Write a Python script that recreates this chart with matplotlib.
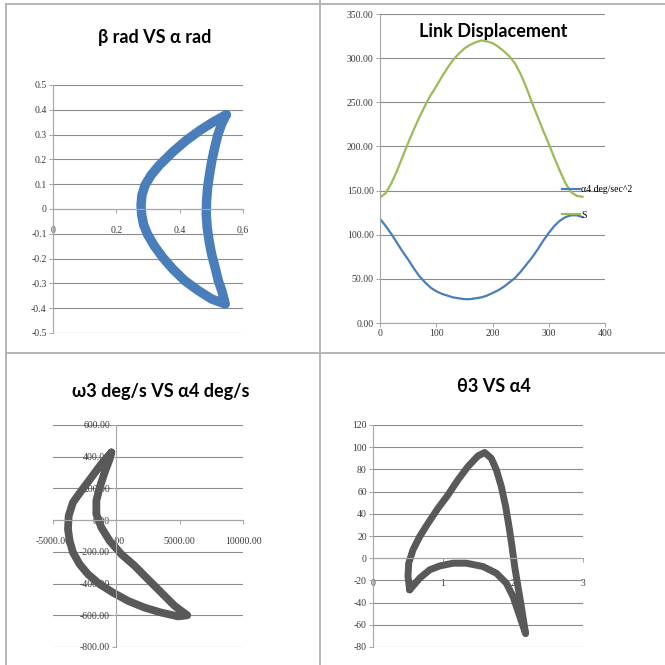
import matplotlib.pyplot as plt
from matplotlib.lines import Line2D

# ---- data ----
# beta rad VS alpha rad (closed loop)
alpha_rad = [0.547, 0.506, 0.464, 0.421, 0.379, 0.336, 0.31, 0.291, 0.281, 0.278,
             0.28, 0.286, 0.299, 0.32, 0.347, 0.379, 0.416, 0.459, 0.501, 0.544,
             0.533, 0.522, 0.512, 0.501, 0.493, 0.487, 0.484, 0.485, 0.488, 0.494,
             0.501, 0.51, 0.52, 0.533, 0.547]
beta_rad = [0.38, 0.351, 0.317, 0.277, 0.231, 0.177, 0.137, 0.097, 0.057, 0.017,
            -0.023, -0.063, -0.103, -0.149, -0.196, -0.243, -0.289, -0.329, -0.363, -0.383,
            -0.329, -0.289, -0.236, -0.183, -0.129, -0.076, -0.023, 0.031, 0.084, 0.137,
            0.191, 0.244, 0.297, 0.344, 0.38]

# Link Displacement
crank_deg = [0, 10, 20, 30, 40, 50, 60, 70, 80, 90, 100, 110, 120, 130, 140, 150, 160, 170, 180,
             190, 200, 210, 220, 230, 240, 250, 260, 270, 280, 290, 300, 310, 320, 330, 340, 350, 360]
alpha4_line = [118, 110, 101, 91, 81, 72, 62, 53, 46, 40, 36, 33, 31, 29, 28, 27, 27, 28, 29,
               31, 34, 37, 41, 46, 51, 58, 66, 74, 83, 93, 102, 110, 116, 120, 122, 122, 120]
s_line = [142, 147, 158, 172, 188, 204, 219, 233, 246, 258, 268, 279, 289, 298, 305, 311, 315, 318, 320,
          319, 317, 313, 308, 302, 294, 282, 267, 250, 234, 218, 203, 187, 172, 158, 148, 144, 143]

# omega3 deg/s VS alpha4 deg/s
alpha4_dps = [-395, -1184, -1974, -2763, -3421, -3763, -3816, -3684, -3421, -2895,
              -2237, -1316, -263, 921, 2237, 3553, 4868, 5600,
              4605, 3553, 2500, 1447, 395, -526, -1184, -1579, -1579, -1316,
              -921, -526, -395]
omega3_dps = [427, 354, 269, 185, 112, 27, -57, -131, -204, -278,
              -341, -404, -457, -509, -552, -583, -607, -600,
              -541, -457, -373, -288, -215, -131, -46, 38, 122, 206,
              301, 385, 427]

# theta3 VS alpha4
alpha4_b = [0.524, 0.5, 0.51, 0.571, 0.667, 0.786, 0.929, 1.071, 1.214, 1.357,
            1.5, 1.595, 1.69, 1.762, 1.833, 1.895, 1.943, 1.986, 2.024, 2.071,
            2.119, 2.16, 2.18, 2.0, 1.905, 1.762, 1.571, 1.333, 1.143, 0.952,
            0.81, 0.667, 0.524]
theta3_b = [-28.5, -16.5, -4.5, 7.5, 19.5, 31.5, 45, 57, 70.6, 82.6,
            92.2, 95.2, 90, 79.6, 64.6, 46.5, 28.5, 10.5, -7.5, -25.5,
            -43.5, -60, -68, -34.5, -22.5, -13.5, -7.5, -4.5, -4.5, -7,
            -10.5, -18, -28.5]

# tick labels
tl_yticks = [-0.5, -0.4, -0.3, -0.2, -0.1, 0, 0.1, 0.2, 0.3, 0.4, 0.5]
tl_ylabels = ['-0.5', '-0.4', '-0.3', '-0.2', '-0.1', '0', '0.1', '0.2', '0.3', '0.4', '0.5']
tl_xticks = [0, 0.2, 0.4, 0.6]
tl_xlabels = ['0', '0.2', '0.4', '0.6']
tr_yticks = [0, 50, 100, 150, 200, 250, 300, 350]
tr_xticks = [0, 100, 200, 300, 400]
bl_yticks = [-800, -600, -400, -200, 0, 200, 400, 600]
bl_xticks = [-5000, 0, 5000, 10000]
br_yticks = [-80, -60, -40, -20, 0, 20, 40, 60, 80, 100, 120]
br_xticks = [0, 1, 2, 3]

W = H = 665
BLUE = '#4a7ebb'
GREEN = '#9bbb59'
GRAY = '#595959'
GRID = '#8c8c8c'
TICKFONT = dict(family='Liberation Serif', size=7)
TITLEFONT = dict(family=['Lato', 'DejaVu Sans'], size=13, weight='bold')

fig = plt.figure(figsize=(6.65, 6.65), dpi=100)


def px_axes(l, t, r, b):
    return fig.add_axes([l / W, 1 - b / H, (r - l) / W, (b - t) / H])


def excel_style(ax):
    ax.set_axisbelow(True)
    ax.yaxis.grid(True, color=GRID, lw=0.8)
    ax.xaxis.grid(False)
    for side in ['top', 'right']:
        ax.spines[side].set_visible(False)
    for side in ['left', 'bottom']:
        ax.spines[side].set_color('#a6a6a6')
        ax.spines[side].set_linewidth(0.8)
    ax.tick_params(direction='out', length=3, width=0.7, color='#a6a6a6',
                   labelcolor='#3a3a3a', pad=1.5)
    ax.patch.set_alpha(0)


def set_ticks(ax, xt, xl, yt, yl):
    ax.set_xticks(xt)
    ax.set_xticklabels(xl, fontdict=TICKFONT)
    ax.set_yticks(yt)
    ax.set_yticklabels(yl, fontdict=TICKFONT)


# panel borders (worksheet cells)
for xs, ys in [([320, 320], [0, 665]), ([6, 665], [353, 353]),
               ([6, 6], [4, 665]), ([6, 665], [4, 4])]:
    fig.add_artist(Line2D([x / W for x in xs], [1 - y / H for y in ys],
                          color='#b4b4b4', lw=1.4, transform=fig.transFigure))

# top left
ax1 = px_axes(53, 85, 243, 333)
excel_style(ax1)
ax1.plot(alpha_rad, beta_rad, color=BLUE, lw=6.8, solid_capstyle='round',
         solid_joinstyle='round')
ax1.set_xlim(0, 0.6)
ax1.set_ylim(-0.5, 0.5)
ax1.spines['bottom'].set_position(('data', 0))
set_ticks(ax1, tl_xticks, tl_xlabels, tl_yticks, tl_ylabels)
ax1.tick_params(axis='x', pad=9)
fig.text(155 / W, 1 - 37 / H, 'β rad VS α rad', ha='center', va='center', **TITLEFONT)

# top right
ax2 = px_axes(380, 14, 605, 323)
excel_style(ax2)
ax2.plot(crank_deg, alpha4_line, color=BLUE, lw=1.6, label='α4 deg/sec^2')
ax2.plot(crank_deg, s_line, color=GREEN, lw=1.6, label='S')
ax2.set_xlim(0, 400)
ax2.set_ylim(0, 350)
set_ticks(ax2, tr_xticks, [str(v) for v in tr_xticks],
          tr_yticks, ['%.2f' % v for v in tr_yticks])
fig.text(493 / W, 1 - 32 / H, 'Link Displacement', ha='center', va='center', **TITLEFONT)
fig.legend(loc='upper left', bbox_to_anchor=(562 / W, 1 - 185 / H),
           frameon=False, handlelength=1.8, handletextpad=0.2,
           labelspacing=1.7, borderpad=0, borderaxespad=0,
           prop=dict(family='Liberation Serif', size=7))

# bottom left
ax3 = px_axes(53, 425, 243, 647)
excel_style(ax3)
ax3.plot(alpha4_dps, omega3_dps, color=GRAY, lw=5.6, solid_capstyle='round',
         solid_joinstyle='round')
ax3.set_xlim(-5000, 10000)
ax3.set_ylim(-800, 600)
ax3.spines['left'].set_position(('data', 0))
ax3.spines['bottom'].set_position(('data', 0))
set_ticks(ax3, bl_xticks, ['%.2f' % v for v in bl_xticks],
          bl_yticks, ['%.2f' % v for v in bl_yticks])
ax3.tick_params(axis='x', pad=9)
fig.text(161 / W, 1 - 392 / H, 'ω3 deg/s VS α4 deg/s', ha='center', va='center', **TITLEFONT)

# bottom right
ax4 = px_axes(373, 425, 583, 647)
excel_style(ax4)
ax4.plot(alpha4_b, theta3_b, color=GRAY, lw=5.0, solid_capstyle='round',
         solid_joinstyle='round')
ax4.set_xlim(0, 3)
ax4.set_ylim(-80, 120)
ax4.spines['bottom'].set_position(('data', 0))
set_ticks(ax4, br_xticks, [str(v) for v in br_xticks],
          br_yticks, [str(v) for v in br_yticks])
ax4.tick_params(axis='x', pad=12)
fig.text(494 / W, 1 - 387 / H, 'θ3 VS α4', ha='center', va='center', **TITLEFONT)

fig.savefig('out.png', dpi=100)
